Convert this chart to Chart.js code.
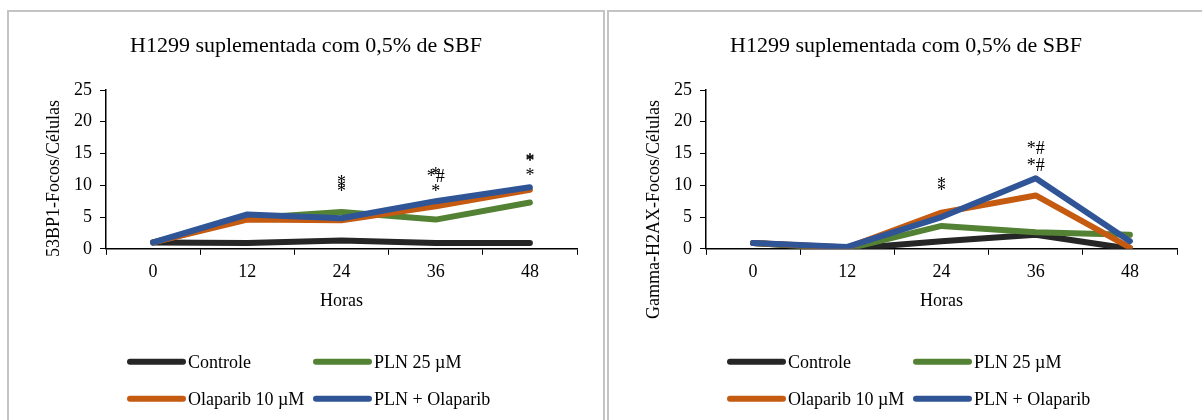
<!DOCTYPE html>
<html>
<head>
<meta charset="utf-8">
<script src="https://cdn.jsdelivr.net/npm/chart.js@4.4.1/dist/chart.umd.min.js"></script>
<style>
  html, body { margin: 0; padding: 0; background: #fff; overflow: hidden; }
  body { width: 1202px; height: 420px; position: relative; }
  .painel { position: absolute; top: 10px; width: 598px; height: 430px; border: 2px solid #c4c4c4; box-sizing: border-box; }
  .painel canvas { display: block; }
</style>
</head>
<body>
<div class="painel" style="left:7px"><canvas id="grafico53" width="594" height="408"></canvas></div>
<div class="painel" style="left:607px"><canvas id="graficoH2AX" width="594" height="408"></canvas></div>
<script>
const horas = ['0', '12', '24', '36', '48'];
const nomes = ['Controle', 'PLN 25 µM', 'Olaparib 10 µM', 'PLN + Olaparib'];
const cores = ['#262626', '#548235', '#c55a11', '#2f5597'];
const titulo = 'H1299 suplementada com 0,5% de SBF';

// 53BP1 focos por celula
const bp1Controle = [1.0, 0.9, 1.3, 0.9, 0.9];
const bp1Pln = [1.0, 4.8, 5.8, 4.6, 7.3];
const bp1Olaparib = [1.0, 4.6, 4.5, 6.7, 9.3];
const bp1Combo = [1.0, 5.4, 4.8, 7.5, 9.7];

// Gamma-H2AX focos por celula
const h2axControle = [0.9, 0.0, 1.2, 2.2, 0.0];
const h2axPln = [0.9, 0.0, 3.6, 2.6, 2.2];
const h2axOlaparib = [0.9, 0.2, 5.7, 8.4, 0.2];
const h2axCombo = [0.9, 0.3, 5.0, 11.1, 1.2];

// marcas de significancia: hora, valor (linha de base do texto), texto
const marcas53 = [
  ['24', 9.55, '*'], ['24', 8.75, '*'], ['24', 8.1, '*'],
  ['36', 10.8, '*'], ['36', 10.5, '*#'], ['36', 8.1, '*'],
  ['48', 13.1, '*'], ['48', 12.9, '*'], ['48', 10.75, '*']
];
const marcasH2ax = [
  ['24', 9.3, '*'], ['24', 8.35, '*'],
  ['36', 15.0, '*#'], ['36', 12.3, '*#']
];

const fonte = 'Liberation Serif';

const painel = {
  id: 'painel',
  afterDraw(chart, args, opts) {
    const ctx = chart.ctx;
    const area = chart.chartArea;
    const x = chart.scales.x;
    const y = chart.scales.y;
    ctx.save();
    ctx.fillStyle = '#000';

    // titulo centrado no painel
    ctx.font = '22px "' + fonte + '"';
    ctx.textAlign = 'center';
    ctx.textBaseline = 'middle';
    ctx.fillText(titulo, chart.width / 2, 34);

    ctx.font = '18px "' + fonte + '"';

    // titulo do eixo y
    ctx.save();
    ctx.translate(area.left - 52, area.top + 10);
    ctx.rotate(-Math.PI / 2);
    ctx.textAlign = 'right';
    ctx.textBaseline = 'middle';
    ctx.fillText(opts.tituloY, 0, 0);
    ctx.restore();

    // asteriscos
    ctx.textAlign = 'center';
    ctx.textBaseline = 'alphabetic';
    opts.marcas.forEach(m => {
      ctx.fillText(m[2], x.getPixelForValue(horas.indexOf(m[0])), y.getPixelForValue(m[1]));
    });

    // legenda em duas colunas
    ctx.textAlign = 'left';
    ctx.textBaseline = 'middle';
    ctx.lineCap = 'round';
    ctx.lineWidth = 6;
    chart.data.datasets.forEach((ds, i) => {
      const lx = area.left + 24 + (i % 2) * 186;
      const ly = area.bottom + 113 + Math.floor(i / 2) * 37;
      ctx.strokeStyle = ds.borderColor;
      ctx.beginPath();
      ctx.moveTo(lx, ly);
      ctx.lineTo(lx + 53, ly);
      ctx.stroke();
      ctx.fillText(ds.label, lx + 58, ly + 1);
    });
    ctx.restore();
  }
};

function montar(id, series, tituloY, marcas) {
  new Chart(document.getElementById(id), {
    type: 'line',
    data: {
      labels: horas,
      datasets: series.map((s, i) => ({
        label: nomes[i],
        data: s,
        borderColor: cores[i],
        backgroundColor: cores[i],
        borderWidth: 6,
        borderCapStyle: 'round',
        borderJoinStyle: 'round',
        pointRadius: 0,
        tension: 0,
        order: 4 - i
      }))
    },
    options: {
      responsive: false,
      animation: false,
      layout: { padding: { top: 78, left: 57, right: 26, bottom: 104 } },
      plugins: {
        legend: { display: false },
        tooltip: { enabled: false },
        title: { display: false },
        painel: { tituloY: tituloY, marcas: marcas }
      },
      scales: {
        x: {
          offset: true,
          grid: { offset: true, drawOnChartArea: false, color: '#000', tickLength: 6 },
          border: { color: '#000', width: 1.5 },
          ticks: { color: '#000', font: { family: fonte, size: 18 }, padding: 7 },
          title: { display: true, text: 'Horas', color: '#000', font: { family: fonte, size: 18 }, padding: { top: 0 } }
        },
        y: {
          min: 0,
          max: 25,
          grid: { drawOnChartArea: false, color: '#000', tickLength: 6 },
          border: { color: '#000', width: 1.5 },
          ticks: { stepSize: 5, color: '#000', font: { family: fonte, size: 18 }, padding: 8 }
        }
      }
    },
    plugins: [painel]
  });
}

montar('grafico53', [bp1Controle, bp1Pln, bp1Olaparib, bp1Combo], '53BP1-Focos/Células', marcas53);
montar('graficoH2AX', [h2axControle, h2axPln, h2axOlaparib, h2axCombo], 'Gamma-H2AX-Focos/Células', marcasH2ax);
</script>
</body>
</html>
